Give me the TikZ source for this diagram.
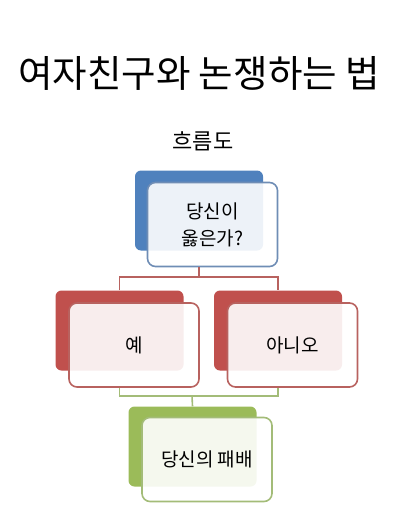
\documentclass[tikz,border=0pt]{standalone}
\usepackage{fontspec}
\setmainfont{Noto Sans CJK KR}
\definecolor{bback}{HTML}{4F81BD}
\definecolor{rback}{HTML}{C0504D}
\definecolor{gback}{HTML}{9BBB59}
\definecolor{bline}{HTML}{6F8DB5}
\definecolor{rline}{HTML}{B8625F}
\definecolor{gline}{HTML}{A3BC78}
\tikzset{
  backbox/.style={rectangle, rounded corners=6pt, minimum width=128pt, minimum height=80pt, inner sep=0pt},
  frontbox/.style={rectangle, rounded corners=8pt, minimum width=130pt, minimum height=84pt, inner sep=0pt, fill=white, fill opacity=0.9, text opacity=1, line width=1.6pt, align=center, font=\fontsize{19}{27}\selectfont},
  conn/.style={line width=1.6pt}
}
\begin{document}
\begin{tikzpicture}[x=1pt,y=-1pt]
\useasboundingbox (0,0) rectangle (412,527);
\node (title) at (199,73) {\fontsize{37.5}{44}\selectfont 여자친구와 논쟁하는 법};
\node (sub) at (203,141) {\fontsize{22}{26}\selectfont 흐름도};
% connectors
\coordinate (j1) at (199,277);
\coordinate (j2) at (192,396);
% back boxes
\node[backbox, fill=bback] (qb) at (199,210.5) {};
\node[backbox, fill=rback] (yb) at (119.5,330.5) {};
\node[backbox, fill=rback] (nb) at (278,330.5) {};
\node[backbox, fill=gback] (gb) at (192.5,446.5) {};
% front boxes
\node[frontbox, draw=bline] (qf) at (212.5,224.5) {당신이\\옳은가?};
\node[frontbox, draw=rline] (yf) at (134,345) {예};
\node[frontbox, draw=rline] (nf) at (292.5,345) {아니오};
\node[frontbox, draw=gline] (gf) at (207,459.5) {당신의 패배};
\draw[conn, rline] (qf.south -| qb.south) -- (j1);
\draw[conn, rline] (yb.north) -- (yb.north |- j1) -- (nb.north |- j1) -- (nb.north);
\draw[conn, gline] (yb.south |- yf.south) -- (yb.south |- j2) -- (nb.south |- j2) -- (nb.south |- nf.south);
\draw[conn, gline] (j2) -- (gb.north);
\end{tikzpicture}
\end{document}
